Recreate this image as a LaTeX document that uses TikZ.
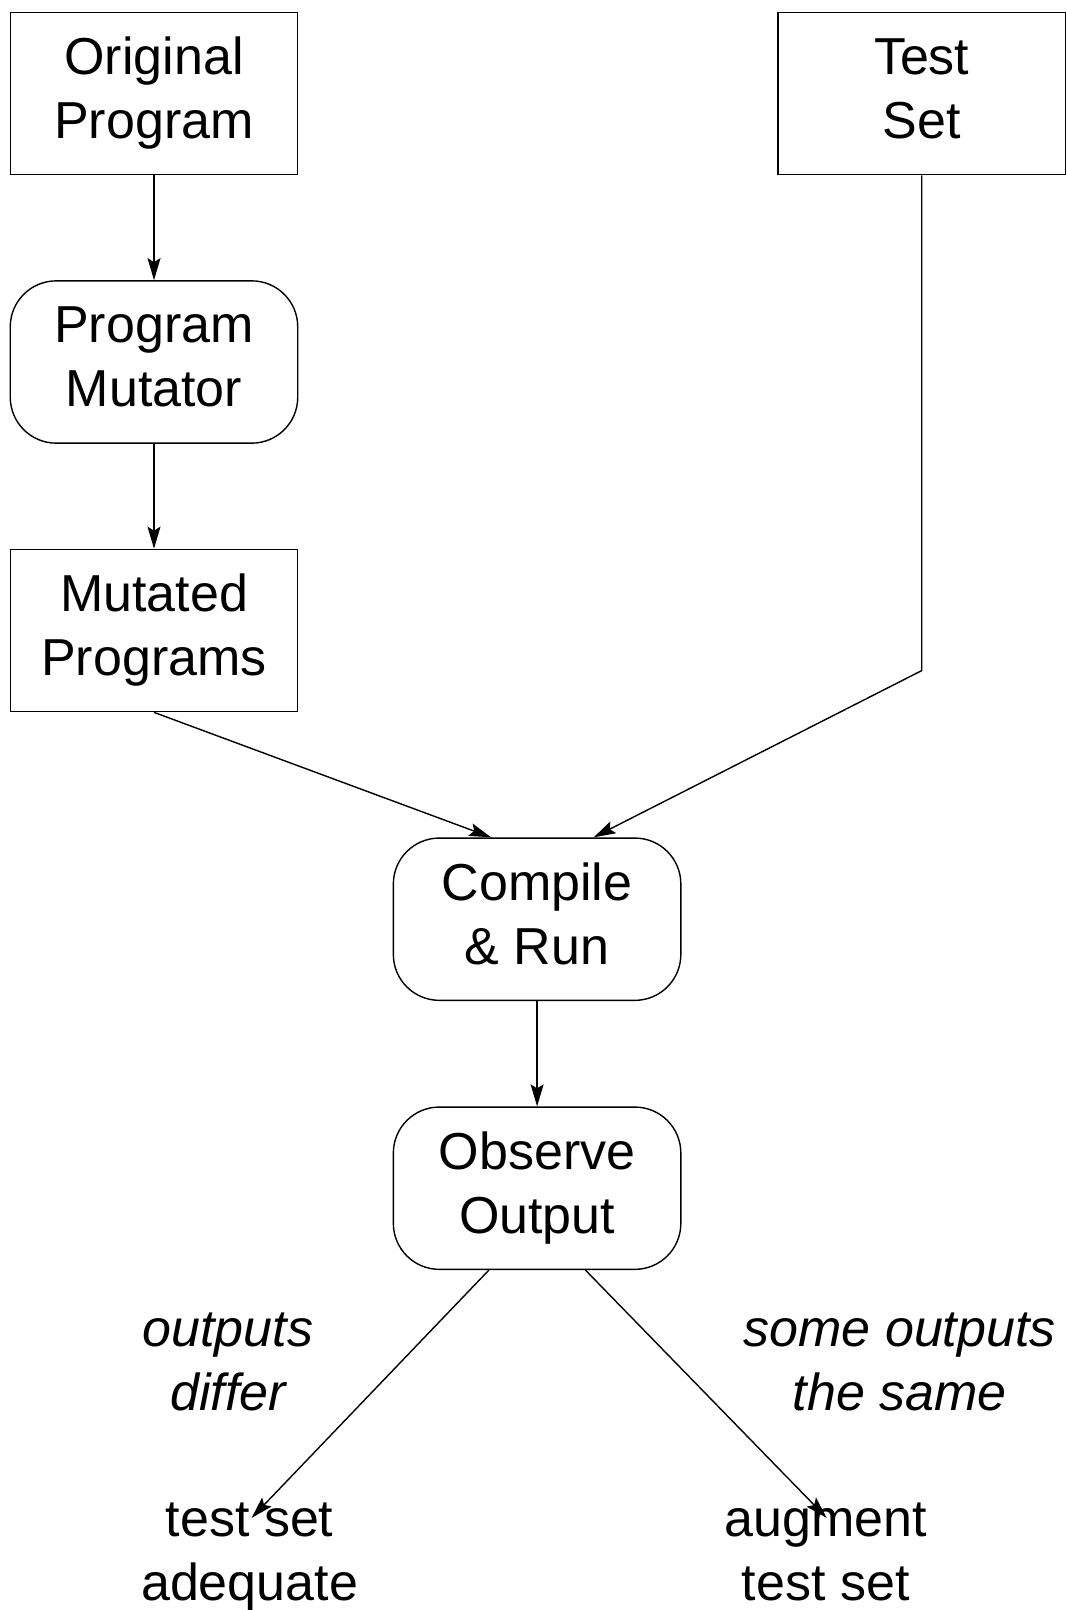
\documentclass[tikz,border=0pt]{standalone}
\usepackage{fontspec}
\setmainfont{Liberation Sans}
\usetikzlibrary{arrows.meta}
\begin{document}
\begin{tikzpicture}[x=1pt,y=-1pt,
  every node/.style={font=\fontsize{52}{64}\selectfont, align=center, inner sep=0pt},
  sqbox/.style={draw, line width=1.4pt, minimum width=287.5pt, minimum height=162.3pt},
  rbox/.style={sqbox, rounded corners=46pt},
  lbl/.style={font=\fontsize{52}{64}\selectfont\itshape},
  conn/.style={line width=1.4pt, -{Stealth[length=22pt,width=13pt,inset=4pt]}}]
\useasboundingbox (0,0) rectangle (1067,1610);
\node[sqbox] (op) at (154,93.5) {\strut Original\\\strut Program};
\node[sqbox] (ts) at (921.7,93.5) {\strut Test\\\strut Set};
\node[rbox] (pm) at (154,362) {\strut Program\\\strut Mutator};
\node[sqbox] (mp) at (154,630.5) {\strut Mutated\\\strut Programs};
\node[rbox] (cr) at (537.1,919.2) {\strut Compile\\\strut \& Run};
\node[rbox] (oo) at (537.1,1188.2) {\strut Observe\\\strut Output};
\node[lbl] (ld) at (228,1366) {\strut outputs\\\strut differ};
\node[lbl] (ls) at (899.7,1366) {\strut some outputs\\\strut the same};
\node (ta) at (249.6,1556) {\strut test set\\\strut adequate};
\node (at) at (825.7,1556) {\strut augment\\\strut test set};
\coordinate (bend) at (921.7,670.6);
\coordinate (tl) at (251.6,1517.9);
\coordinate (tr) at (826.7,1517.9);
\draw[conn] (op.south) -- (pm.north);
\draw[conn] (pm.south) -- (mp.north);
\draw[conn] (mp.south) -- ([xshift=-46pt]cr.north);
\draw[conn] (ts.south) -- (bend) -- ([xshift=56.5pt]cr.north);
\draw[conn] (cr.south) -- (oo.north);
\draw[conn] ([xshift=-48.2pt]oo.south) -- (tl);
\draw[conn] ([xshift=48.3pt]oo.south) -- (tr);
\end{tikzpicture}
\end{document}
